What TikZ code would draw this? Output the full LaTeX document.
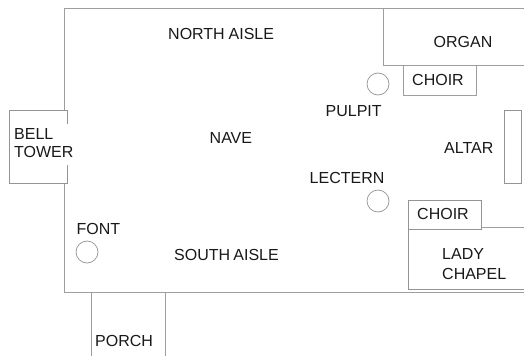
\documentclass[tikz,border=0pt]{standalone}
\usepackage{fontspec}
\setmainfont{Liberation Sans}
\tikzset{
  wall/.style={draw=black!38,line width=1pt},
  thin wall/.style={draw=black!42,line width=0.7pt},
  lab/.style={inner sep=0pt,anchor=base west,font=\fontsize{16}{16}\selectfont,text=black!90},
}
\begin{document}
\begin{tikzpicture}[x=1pt,y=-1pt]
\useasboundingbox (0,0) rectangle (524,356);
\fill[white] (0,0) rectangle (524,356);
% outer walls
\draw[wall] (64.5,110.5) -- (64.5,8) -- (524,8);
\draw[wall] (64.5,183) -- (64.5,292) -- (524,292);
% bell tower
\draw[thin wall] (67.5,124) -- (67.5,110.5) -- (9.5,110.5) -- (9.5,183) -- (67.5,183) -- (67.5,165);
% organ
\draw[wall] (383.5,8) -- (383.5,65) -- (524,65);
% choir north
\draw[wall] (403.5,65) -- (403.5,95) -- (476.5,95) -- (476.5,65);
% altar
\draw[thin wall] (504.5,110.5) rectangle (521.5,183);
% choir south and lady chapel
\draw[thin wall] (408.5,200.5) rectangle (481.5,229.5);
\draw[thin wall] (408.5,229.5) -- (408.5,289.5) -- (524,289.5);
\draw[wall] (481.5,227.5) -- (524,227.5);
% porch
\draw[wall] (91,292) -- (91,356);
\draw[wall] (165.5,292) -- (165.5,356);
% round furniture
\node[circle,thin wall,minimum size=22pt,inner sep=0pt] (pulpitmark) at (378,84) {};
\node[circle,thin wall,minimum size=22pt,inner sep=0pt] (lecternmark) at (378,201) {};
\node[circle,thin wall,minimum size=22pt,inner sep=0pt] (fontmark) at (87,252) {};
% labels
\node[lab] (northaisle) at (168,39) {NORTH\hspace{-0.6pt} AISLE};
\node[lab] (organ) at (433.5,47) {ORGAN};
\node[lab] (choira) at (412,85) {CHOIR};
\node[lab] (pulpit) at (325.5,116) {PULPIT};
\node[lab] (altar) at (444,153) {ALTAR};
\node[lab] (nave) at (209.5,143) {NAVE};
\node[lab] (bell) at (14,139) {BELL};
\node[lab] (tower) at (14,157) {TOWER};
\node[lab] (lectern) at (309.5,183) {LECTERN};
\node[lab] (choirb) at (417,219) {CHOIR};
\node[lab] (lady) at (442,259) {LADY};
\node[lab] (chapel) at (442,279) {CHAPEL};
\node[lab] (fontlab) at (76.5,234) {FONT};
\node[lab] (southaisle) at (174,260) {SOUTH\hspace{-1.2pt} AISLE};
\node[lab] (porch) at (95,346) {PORCH};
\end{tikzpicture}
\end{document}
